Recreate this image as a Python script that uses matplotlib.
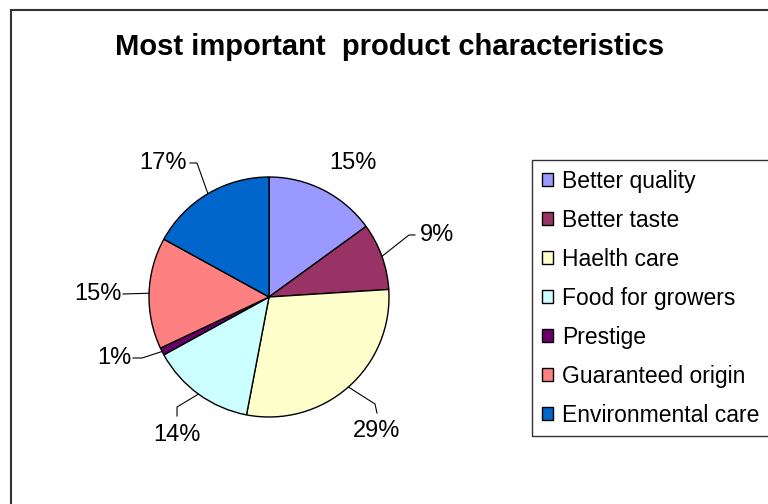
import matplotlib
matplotlib.use("Agg")
import matplotlib.pyplot as plt
from matplotlib.patches import Patch, Rectangle
import numpy as np

categories = ["Better quality", "Better taste", "Haelth care", "Food for growers",
              "Prestige", "Guaranteed origin", "Environmental care"]
values = [15, 9, 29, 14, 1, 15, 17]
colors = ["#9999FF", "#993366", "#FFFFCC", "#CCFFFF", "#660066", "#FF8080", "#0066CC"]

plt.rcParams["font.family"] = ["Liberation Sans", "DejaVu Sans"]

W, H = 768, 504
CX, CY, R = 269, 297, 120   # pie centre / radius in pixels


def px(x, y):
    # pixel position -> data coords (1 unit = pie radius)
    return (x - CX) / R, (CY - y) / R


# label centres and leader elbow/end points, in pixels
label_pos = [(353, 163), (437, 235), (377, 431), (177, 435), (114, 358), (98, 294), (163, 163)]
leaders = [None, ((409, 235), (415, 235)), ((375, 404), (377, 413)),
           ((177, 407), (177, 416)), ((142, 358), (133, 358)),
           ((123, 294), (123, 294)), ((197, 163), (190, 163))]

fig = plt.figure(figsize=(W / 100, H / 100), dpi=100)
fig.patch.set_facecolor("white")
ax = fig.add_axes([0, 0, 1, 1])

wedges, _ = ax.pie(values, colors=colors, startangle=90, counterclock=False,
                   wedgeprops=dict(edgecolor="black", linewidth=1.0))
ax.set_xlim(-CX / R, (W - CX) / R)
ax.set_ylim(-(H - CY) / R, CY / R)
ax.axis("off")

for w, v, lp, ld in zip(wedges, values, label_pos, leaders):
    ang = np.deg2rad((w.theta1 + w.theta2) / 2)
    if ld is not None:
        e = px(*ld[0])
        t = px(*ld[1])
        ax.plot([np.cos(ang), e[0], t[0]], [np.sin(ang), e[1], t[1]],
                color="black", linewidth=0.8)
    tx, ty = px(*lp)
    ax.text(tx, ty, f"{v}%", ha="center", va="center", fontsize=17)

fig.text(390 / W, 1 - 47 / H, "Most important  product characteristics",
         ha="center", va="center", fontsize=21, fontweight="bold")

handles = [Patch(facecolor=c, edgecolor="black", linewidth=1.0) for c in colors]
leg = fig.legend(handles, categories, loc="upper left",
                 bbox_to_anchor=(532 / W, 1 - 160 / H), bbox_transform=fig.transFigure,
                 fontsize=16.5, frameon=True, fancybox=False, borderaxespad=0,
                 handlelength=0.5, handleheight=0.5, handletextpad=0.4,
                 labelspacing=0.70, borderpad=0.42)
leg.get_frame().set_edgecolor("black")
leg.get_frame().set_linewidth(1.0)

# outer chart border (runs off right and bottom edges)
fig.patches.append(Rectangle((11 / W, -0.1), 1.2, 1.1 - 10 / H, transform=fig.transFigure,
                             fill=False, edgecolor="#333333", linewidth=1.5))

fig.savefig("out.png", dpi=100, facecolor="white")
